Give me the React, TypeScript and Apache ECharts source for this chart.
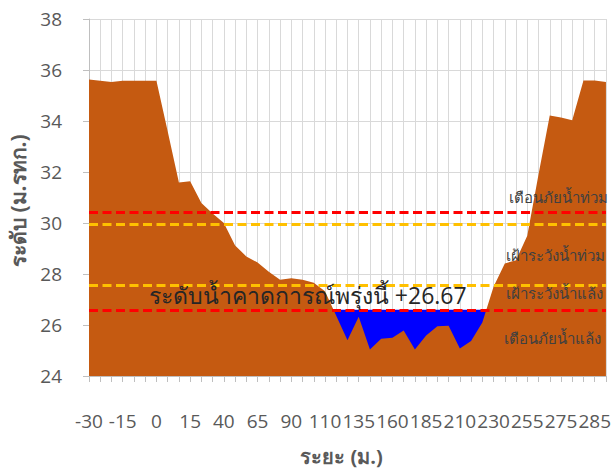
import React, { useEffect, useRef } from "react";
import * as echarts from "echarts";

const distances = [
  -30, -25, -20, -15, -10, -5, 0, 5, 10, 15, 25, 30, 40, 50, 55, 65, 75, 80, 90, 95, 100, 110, 115, 125,
  135, 140, 150, 160, 165, 175, 185, 190, 200, 210, 215, 220, 230, 240, 245, 255, 260, 270, 275, 280, 282, 285, 290,
];
const groundLevel = [
  35.63, 35.58, 35.53, 35.58, 35.58, 35.58, 35.58, 33.6, 31.59, 31.64, 30.78, 30.37, 30.0, 29.12, 28.69, 28.45,
  28.09, 27.77, 27.83, 27.77, 27.66, 27.32, 26.36, 25.4, 26.32, 25.04, 25.46, 25.5, 25.78, 25.04, 25.59, 25.95,
  25.97, 25.08, 25.37, 26.1, 27.5, 28.41, 28.54, 29.5, 31.9, 34.22, 34.14, 34.03, 35.59, 35.59, 35.53,
];
const waterLevel = [
  null, null, null, null, null, null, null, null, null, null, null, null, null, null, null, null, null, null, null,
  null, null, 26.6, 26.6, 26.6, 26.6, 26.6, 26.6, 26.6, 26.6, 26.6, 26.6, 26.6, 26.6, 26.6, 26.6, 26.6, 26.6,
  null, null, null, null, null, null, null, null, null, null,
];
const forecastValue = 26.67;
const forecastText = "ระดับน้ำคาดการณ์พรุ่งนี้";
const thresholdNames = ["เตือนภัยน้ำท่วม", "เฝ้าระวังน้ำท่วม", "เฝ้าระวังน้ำแล้ง", "เตือนภัยน้ำแล้ง"];
const thresholdValues = [30.42, 29.95, 27.54, 26.58];
const thresholdColors = ["#FF0000", "#FFC000", "#FFC000", "#FF0000"];
const thresholdLabelPos = ["insideEndTop", "insideEndBottom", "insideEndBottom", "insideEndBottom"];
const thresholdLabelDist = [
  [-2, 8],
  [1, 23],
  [3, 0],
  [5, 20],
];
const xTitle = "ระยะ (ม.)";
const yTitle = "ระดับ (ม.รทก.)";

const FONT = "'Open Sans', 'Noto Sans', sans-serif";

export default function App() {
  const ref = useRef<HTMLDivElement>(null);
  useEffect(() => {
    if (!ref.current) return;
    const chart = echarts.init(ref.current, undefined, { renderer: "svg" });
    chart.setOption({
      animation: false,
      backgroundColor: "#FFFFFF",
      textStyle: { fontFamily: FONT },
      grid: { left: 89, right: 6, top: 19, bottom: 88, containLabel: false },
      graphic: [
        {
          type: "text",
          x: 18,
          y: 267,
          rotation: Math.PI / 2,
          style: {
            text: yTitle,
            fontSize: 21,
            fontWeight: "bold",
            fill: "#595959",
            fontFamily: FONT,
            align: "left",
            verticalAlign: "middle",
          },
          silent: true,
        },
      ],
      xAxis: {
        type: "category",
        data: distances.map(String),
        boundaryGap: false,
        name: xTitle,
        nameLocation: "middle",
        nameGap: 70,
        nameTextStyle: {
          fontSize: 20,
          fontWeight: "bold",
          color: "#595959",
          fontFamily: FONT,
          padding: [0, 12, 0, 0],
        },
        axisLine: { show: true, lineStyle: { color: "#BFBFBF", width: 1 } },
        axisTick: { show: true, interval: 0, length: 6, lineStyle: { color: "#BFBFBF" } },
        axisLabel: { interval: 2, fontSize: 19, color: "#595959", margin: 35, fontFamily: FONT },
        splitLine: { show: true, interval: 0, lineStyle: { color: "#D9D9D9", width: 1 } },
      },
      yAxis: {
        type: "value",
        min: 24,
        max: 38,
        interval: 2,
        axisLine: { show: true, lineStyle: { color: "#BFBFBF", width: 1 } },
        axisTick: { show: true, length: 6, lineStyle: { color: "#BFBFBF" } },
        axisLabel: { fontSize: 19, color: "#595959", margin: 27, fontFamily: FONT },
        splitLine: { show: true, lineStyle: { color: "#D9D9D9", width: 1 } },
      },
      series: [
        {
          name: "water",
          type: "line",
          data: waterLevel,
          symbol: "none",
          lineStyle: { width: 0 },
          areaStyle: { color: "#0000FF", opacity: 1, origin: "start" },
          z: 1,
        },
        {
          name: "ground",
          type: "line",
          data: groundLevel,
          symbol: "none",
          lineStyle: { width: 0 },
          areaStyle: { color: "#C55A11", opacity: 1, origin: "start" },
          z: 2,
        },
        {
          name: "levels",
          type: "line",
          data: [],
          z: 3,
          markLine: {
            silent: true,
            symbol: "none",
            data: thresholdValues.map((v, i) => ({
              yAxis: v,
              name: thresholdNames[i],
              lineStyle: { color: thresholdColors[i], width: 3, type: [9, 4.5] },
              label: {
                show: true,
                position: thresholdLabelPos[i],
                distance: thresholdLabelDist[i],
                formatter: thresholdNames[i],
                fontSize: 15,
                color: "#404040",
                fontFamily: FONT,
              },
            })),
          },
        },
        {
          name: "forecast",
          type: "line",
          data: [],
          z: 4,
          markPoint: {
            silent: true,
            symbol: "circle",
            symbolSize: 0,
            data: [
              {
                coord: [String(distances[20]), forecastValue],
                value: forecastValue,
                label: {
                  show: true,
                  position: "inside",
                  offset: [-6, -13],
                  formatter: forecastText + " +" + forecastValue.toFixed(2),
                  fontSize: 23,
                  color: "#262626",
                  fontFamily: FONT,
                },
              },
            ],
          },
        },
      ],
    });
    return () => chart.dispose();
  }, []);
  return <div ref={ref} style={{ position: "fixed", left: 0, top: 0, width: 614, height: 471 }} />;
}
